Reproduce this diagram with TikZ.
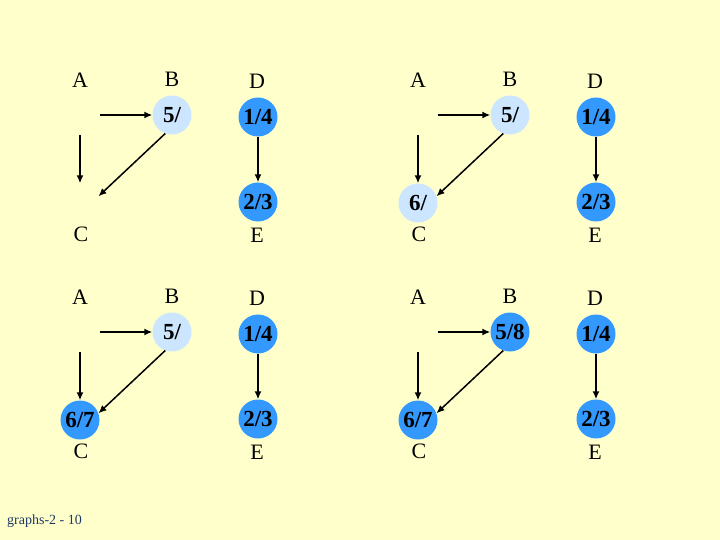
\documentclass[tikz,border=0pt]{standalone}
\usepackage{fontspec}
\setmainfont{Liberation Serif}
\usetikzlibrary{arrows.meta}
\definecolor{bgyellow}{RGB}{255,255,204}
\definecolor{lightv}{RGB}{204,230,255}
\definecolor{darkv}{RGB}{51,153,255}
\definecolor{footc}{RGB}{31,56,100}
\tikzset{
  vtx/.style={circle, minimum size=39pt, inner sep=0pt, font=\fontsize{23}{26}\selectfont\bfseries},
  lightvtx/.style={vtx, fill=lightv},
  darkvtx/.style={vtx, fill=darkv},
  lbl/.style={font=\fontsize{22}{26}\selectfont, inner sep=0pt},
  arr/.style={-{Latex[length=8pt,width=7pt]}, line width=1.5pt},
}
\newcommand{\panel}[6]{%
  % #1 shift, #2 prefix, #3 B style, #4 B text, #5 C style, #6 C text
  \begin{scope}[shift={#1}]
    \node[vtx] (#2A) at (80,115) {};
    \node[#3] (#2B) at (172,115) {#4};
    \node[#5] (#2C) at (80,203) {#6};
    \node[darkvtx] (#2D) at (258,117) {1/4};
    \node[darkvtx] (#2E) at (258,202) {2/3};
    \node[lbl] (#2la) at (80,80) {A};
    \node[lbl] (#2lb) at (172,79) {B};
    \node[lbl] (#2ld) at (257,81) {D};
    \node[lbl] (#2lc) at (81,234) {C};
    \node[lbl] (#2le) at (257,235) {E};
    \draw[arr] (#2A) -- (#2B);
    \draw[arr] (#2A) -- (#2C);
    \draw[arr] (#2B.250) -- (#2C.20);
    \draw[arr] (#2D) -- (#2E);
  \end{scope}}
\begin{document}
\begin{tikzpicture}[x=1pt,y=-1pt]
  \fill[bgyellow] (0,0) rectangle (720,540);
  \useasboundingbox (0,0) rectangle (720,540);
  \panel{(0,0)}{p}{lightvtx}{5/}{vtx}{}
  \panel{(338,0)}{q}{lightvtx}{5/}{lightvtx}{6/}
  \panel{(0,217)}{r}{lightvtx}{5/}{darkvtx}{6/7}
  \panel{(338,217)}{s}{darkvtx}{5/8}{darkvtx}{6/7}
  \node[anchor=base west, inner sep=0pt, font=\fontsize{14}{16}\selectfont, text=footc] (foot) at (7,524) {graphs-2 - 10};
\end{tikzpicture}
\end{document}
